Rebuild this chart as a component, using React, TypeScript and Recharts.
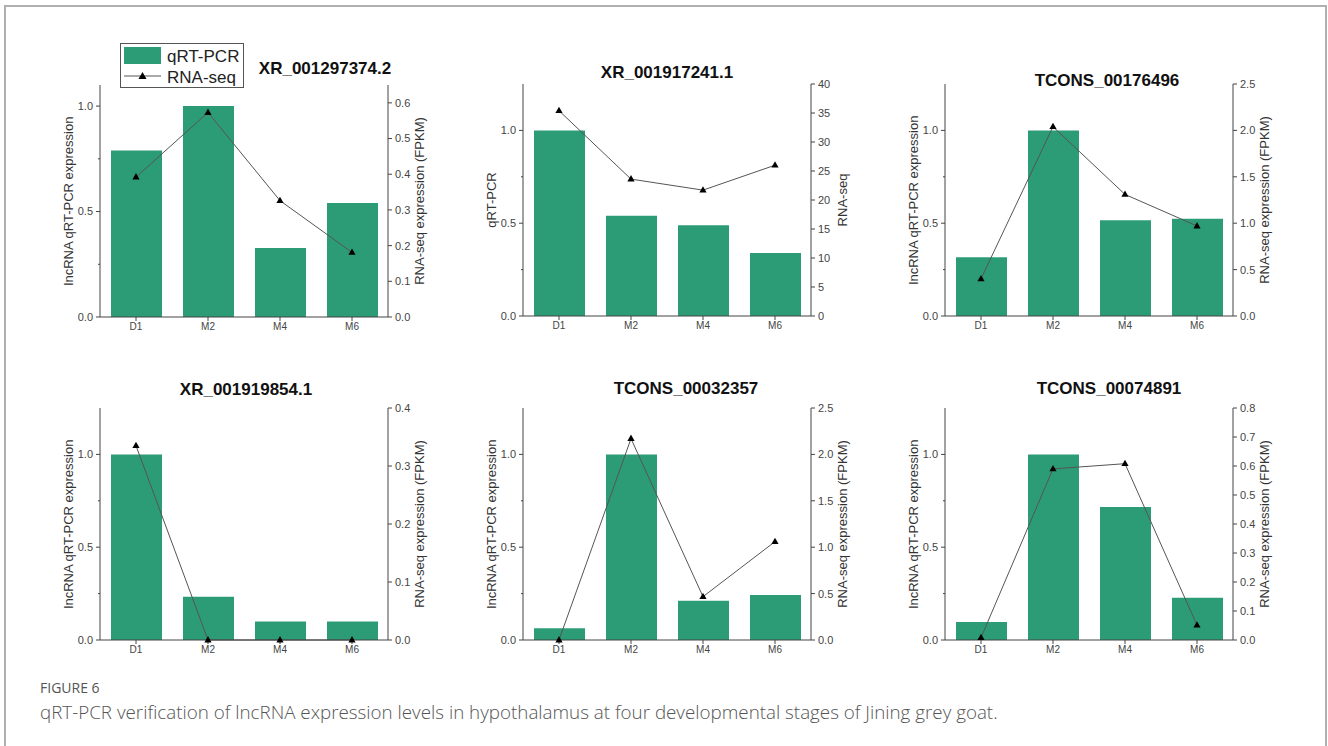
import { ComposedChart, Bar, Line, XAxis, YAxis, Legend } from 'recharts'

// developmental stages on the x axis
const stages = ['D1', 'M2', 'M4', 'M6']

const titles = [
  'XR_001297374.2',
  'XR_001917241.1',
  'TCONS_00176496',
  'XR_001919854.1',
  'TCONS_00032357',
  'TCONS_00074891',
]

// relative qRT-PCR expression (bars, left axis)
const qpcr1 = [0.79, 1.0, 0.327, 0.54]
const qpcr2 = [1.0, 0.54, 0.489, 0.34]
const qpcr3 = [0.316, 1.0, 0.516, 0.524]
const qpcr4 = [1.0, 0.233, 0.1, 0.1]
const qpcr5 = [0.063, 1.0, 0.211, 0.242]
const qpcr6 = [0.097, 1.0, 0.717, 0.227]

// RNA-seq FPKM (line, right axis)
const rnaseq1 = [0.392, 0.573, 0.326, 0.181]
const rnaseq2 = [35.4, 23.6, 21.7, 26.0]
const rnaseq3 = [0.4, 2.04, 1.31, 0.97]
const rnaseq4 = [0.335, 0, 0, 0]
const rnaseq5 = [0.0, 2.17, 0.467, 1.06]
const rnaseq6 = [0.008, 0.59, 0.608, 0.051]

const leftTicks = [0, 0.25, 0.5, 0.75, 1.0]
const rightTicks1 = [0, 0.1, 0.2, 0.3, 0.4, 0.5, 0.6]
const rightTicks2 = [0, 5, 10, 15, 20, 25, 30, 35, 40]
const rightTicks3 = [0, 0.5, 1.0, 1.5, 2.0, 2.5]
const rightTicks4 = [0, 0.1, 0.2, 0.3, 0.4]
const rightTicks6 = [0, 0.1, 0.2, 0.3, 0.4, 0.5, 0.6, 0.7, 0.8]

const GREEN = '#2c9c77'
const AXIS = '#444'
const FONT = '"Liberation Sans", Arial, sans-serif'

const PLOT_W = 288
const PLOT_H = 232

const panels = [
  { title: titles[0], qpcr: qpcr1, rna: rnaseq1, leftMax: 1.1, rightMax: 0.65, rightTicks: rightTicks1, digits: 1,
    left: 100, top: 85, titleX: 325, titleY: 69, yLabel: 'lncRNA qRT-PCR expression', y2Label: 'RNA-seq expression (FPKM)', legend: true },
  { title: titles[1], qpcr: qpcr2, rna: rnaseq2, leftMax: 1.25, rightMax: 40, rightTicks: rightTicks2, digits: 0,
    left: 523, top: 84, titleX: 667, titleY: 73, yLabel: 'qRT-PCR', y2Label: 'RNA-seq' },
  { title: titles[2], qpcr: qpcr3, rna: rnaseq3, leftMax: 1.25, rightMax: 2.5, rightTicks: rightTicks3, digits: 1,
    left: 945, top: 84, titleX: 1107, titleY: 81, yLabel: 'lncRNA qRT-PCR expression', y2Label: 'RNA-seq expression (FPKM)' },
  { title: titles[3], qpcr: qpcr4, rna: rnaseq4, leftMax: 1.25, rightMax: 0.4, rightTicks: rightTicks4, digits: 1,
    left: 100, top: 408, titleX: 246, titleY: 390, yLabel: 'lncRNA qRT-PCR expression', y2Label: 'RNA-seq expression (FPKM)' },
  { title: titles[4], qpcr: qpcr5, rna: rnaseq5, leftMax: 1.25, rightMax: 2.5, rightTicks: rightTicks3, digits: 1,
    left: 523, top: 408, titleX: 686, titleY: 389, yLabel: 'lncRNA qRT-PCR expression', y2Label: 'RNA-seq expression (FPKM)' },
  { title: titles[5], qpcr: qpcr6, rna: rnaseq6, leftMax: 1.25, rightMax: 0.8, rightTicks: rightTicks6, digits: 1,
    left: 945, top: 408, titleX: 1109, titleY: 389, yLabel: 'lncRNA qRT-PCR expression', y2Label: 'RNA-seq expression (FPKM)' },
]

const Triangle = (props: any) => {
  const { cx, cy, index } = props
  if (cx == null || cy == null) return <g key={`t-${index}`} />
  return (
    <path
      key={`t-${index}`}
      d={`M${cx},${cy - 4} L${cx + 3.6},${cy + 2.4} L${cx - 3.6},${cy + 2.4} Z`}
      fill="#000"
    />
  )
}

// left axis: majors every 0.5 with labels, minors at the quarters
const LeftTick = (props: any) => {
  const { x, y, payload } = props
  const v = payload.value as number
  const ax = x + 7
  const major = Math.abs(v * 2 - Math.round(v * 2)) < 1e-6
  return (
    <g>
      <line x1={ax - (major ? 4 : 2)} x2={ax} y1={y} y2={y} stroke={AXIS} />
      {major && (
        <text x={x} y={y} dy="0.35em" textAnchor="end" fontSize={11} fill={AXIS} fontFamily={FONT}>
          {v.toFixed(1)}
        </text>
      )}
    </g>
  )
}

const vLabel = (text: string, side: 'left' | 'right') => (props: any) => {
  const vb = props.viewBox || {}
  const cx = side === 'left' ? vb.x + vb.width - 32 : vb.x + 31
  const cy = vb.y + vb.height / 2
  return (
    <text
      x={cx}
      y={cy}
      transform={`rotate(-90 ${cx} ${cy})`}
      textAnchor="middle"
      dominantBaseline="central"
      fontSize={13}
      fill="#333"
      fontFamily={FONT}
    >
      {text}
    </text>
  )
}

function LegendBox() {
  return (
    <div style={{ border: '1px solid #555', background: '#fff', width: 124, height: 45, boxSizing: 'border-box' }}>
      <svg width={122} height={43} style={{ display: 'block' }}>
        <rect x={3} y={3} width={37} height={17} fill={GREEN} />
        <text x={46} y={18} fontSize={17} fill="#222" fontFamily={FONT}>qRT-PCR</text>
        <line x1={3} x2={40} y1={32} y2={32} stroke="#555" />
        <path d="M21.5,28 L25.5,35 L17.5,35 Z" fill="#000" />
        <text x={46} y={39} fontSize={17} fill="#222" fontFamily={FONT}>RNA-seq</text>
      </svg>
    </div>
  )
}

function Panel({ p }: { p: (typeof panels)[number] }) {
  const data = stages.map((s, i) => ({ stage: s, qpcr: p.qpcr[i], rna: p.rna[i] }))
  return (
    <>
      <div
        style={{
          position: 'absolute',
          left: p.titleX,
          top: p.titleY,
          transform: 'translate(-50%, -50%)',
          fontFamily: FONT,
          fontWeight: 'bold',
          fontSize: 17,
          color: '#111',
          whiteSpace: 'nowrap',
        }}
      >
        {p.title}
      </div>
      <div style={{ position: 'absolute', left: p.left - 60, top: p.top - 40 }}>
        <ComposedChart
          width={PLOT_W + 120}
          height={PLOT_H + 70}
          data={data}
          margin={{ top: 40, right: 0, bottom: 0, left: 0 }}
        >
          <XAxis
            dataKey="stage"
            height={30}
            stroke={AXIS}
            tickSize={4}
            tick={{ fontSize: 10, fill: AXIS, fontFamily: FONT }}
          />
          <YAxis
            yAxisId="left"
            type="number"
            width={60}
            domain={[0, p.leftMax]}
            ticks={leftTicks}
            interval={0}
            stroke={AXIS}
            tickLine={false}
            tickSize={4}
            tickMargin={3}
            tick={<LeftTick />}
            label={{ content: vLabel(p.yLabel, 'left') }}
          />
          <YAxis
            yAxisId="right"
            orientation="right"
            type="number"
            width={60}
            domain={[0, p.rightMax]}
            ticks={p.rightTicks}
            interval={0}
            stroke={AXIS}
            tickSize={4}
            tickMargin={3}
            tick={{ fontSize: 11, fill: AXIS, fontFamily: FONT }}
            tickFormatter={(v: number) => v.toFixed(p.digits)}
            label={{ content: vLabel(p.y2Label, 'right') }}
          />
          <Bar yAxisId="left" dataKey="qpcr" name="qRT-PCR" fill={GREEN} barSize={51} isAnimationActive={false} />
          <Line
            yAxisId="right"
            dataKey="rna"
            name="RNA-seq"
            type="linear"
            stroke="#555"
            strokeWidth={1}
            dot={Triangle}
            activeDot={false}
            isAnimationActive={false}
          />
          {p.legend && (
            <Legend
              layout="horizontal"
              verticalAlign="middle"
              align="center"
              content={() => <LegendBox />}
              wrapperStyle={{ left: 80, top: -2, width: 124, height: 45 }}
            />
          )}
        </ComposedChart>
      </div>
    </>
  )
}

export default function App() {
  return (
    <div style={{ position: 'absolute', left: 0, top: 0, width: 1328, height: 746, overflow: 'hidden', background: '#fff' }}>
      <div
        style={{
          position: 'absolute',
          left: 4,
          top: 5,
          width: 1323,
          height: 741,
          boxSizing: 'border-box',
          border: '2px solid #b0b0b0',
          borderBottom: 'none',
        }}
      />
      {panels.map((p) => (
        <Panel key={p.title} p={p} />
      ))}
      <div
        style={{
          position: 'absolute',
          left: 40,
          top: 678,
          fontFamily: '"Open Sans", sans-serif',
          fontWeight: 500,
          fontSize: 14,
          color: '#555',
          lineHeight: '20px',
        }}
      >
        FIGURE 6
      </div>
      <div
        style={{
          position: 'absolute',
          left: 40,
          top: 700,
          fontFamily: '"Open Sans", sans-serif',
          fontWeight: 300,
          fontSize: 18.8,
          color: '#555',
          lineHeight: '24px',
          whiteSpace: 'nowrap',
        }}
      >
        qRT-PCR verification of lncRNA expression levels in hypothalamus at four developmental stages of Jining grey goat.
      </div>
    </div>
  )
}
